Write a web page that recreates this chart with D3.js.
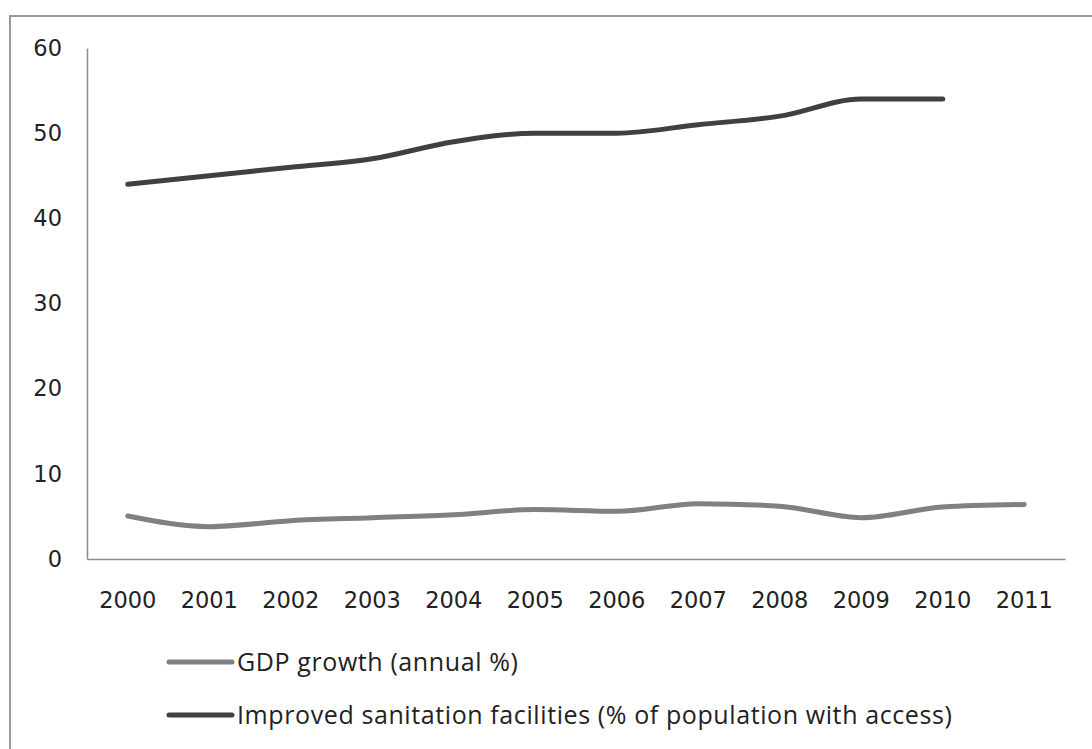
<!DOCTYPE html>
<html>
<head>
<meta charset="utf-8">
<script src="https://cdn.jsdelivr.net/npm/d3@7"></script>
<style>
  html, body { margin: 0; padding: 0; background: #fff; }
  svg { display: block; }
</style>
</head>
<body>
<svg id="chart" width="1092" height="749"></svg>
<script>
const years = ["2000","2001","2002","2003","2004","2005","2006","2007","2008","2009","2010","2011"];
const gdpGrowth = [5.05, 3.8, 4.5, 4.85, 5.2, 5.8, 5.6, 6.5, 6.2, 4.85, 6.1, 6.4];
const sanitation = [44, 45, 46, 47, 49, 50, 50, 51, 52, 54, 54, null];
const yTicks = [0, 10, 20, 30, 40, 50, 60];
const seriesNames = ["GDP growth (annual %)", "Improved sanitation facilities (% of population with access)"];
const seriesColors = ["#808080", "#404040"];

(function () {
const svg = d3.select("#chart");
const W = 1092, H = 749;

// outer frame
svg.append("rect")
  .attr("x", 10).attr("y", 16)
  .attr("width", W + 20).attr("height", H + 20)
  .attr("fill", "#fff").attr("stroke", "#9a9a9a").attr("stroke-width", 2);

const mLeft = 87, mRight = 1065, mTop = 48, mBottom = 559;

const x = d3.scaleBand().domain(years).range([mLeft, mRight]);
const y = d3.scaleLinear().domain([0, 60]).range([mBottom, mTop]);

const tickFont = "DejaVu Sans, Verdana, sans-serif";

// y axis
const yAxis = svg.append("g").attr("transform", `translate(${mLeft},0)`)
  .call(d3.axisLeft(y).tickValues(yTicks).tickSize(0).tickPadding(25));
yAxis.select(".domain").attr("stroke", "#8c8c8c").attr("stroke-width", 1.5);
yAxis.selectAll("text")
  .attr("font-family", tickFont)
  .attr("font-size", 22.5).attr("fill", "#222");

// x axis
const xAxis = svg.append("g").attr("transform", `translate(0,${mBottom})`)
  .call(d3.axisBottom(x).tickSize(0).tickPadding(33));
xAxis.select(".domain").attr("stroke", "#8c8c8c").attr("stroke-width", 1.5);
xAxis.selectAll("text")
  .attr("font-family", tickFont)
  .attr("font-size", 22.5).attr("fill", "#222");

const cx = d => x(d) + x.bandwidth() / 2;

const line = d3.line()
  .defined(d => d.v != null)
  .x(d => cx(d.year))
  .y(d => y(d.v))
  .curve(d3.curveMonotoneX);

const data = [gdpGrowth, sanitation].map(arr => years.map((yr, i) => ({ year: yr, v: arr[i] })));

data.forEach((s, i) => {
  svg.append("path")
    .datum(s)
    .attr("fill", "none")
    .attr("stroke", seriesColors[i])
    .attr("stroke-width", 5)
    .attr("stroke-linecap", "round")
    .attr("stroke-linejoin", "round")
    .attr("d", line);
});

// legend
const legendY = [662, 715];
seriesNames.forEach((name, i) => {
  const g = svg.append("g").attr("transform", `translate(0,${legendY[i]})`);
  g.append("line")
    .attr("x1", 169).attr("x2", 232)
    .attr("y1", 0).attr("y2", 0)
    .attr("stroke", seriesColors[i]).attr("stroke-width", 5).attr("stroke-linecap", "round");
  g.append("text")
    .attr("x", 237).attr("y", 0).attr("dy", "0.35em")
    .attr("font-family", "Open Sans, sans-serif")
    .attr("font-size", 25).attr("letter-spacing", 0.6).attr("fill", "#222")
    .text(name);
});
})();
</script>
</body>
</html>
